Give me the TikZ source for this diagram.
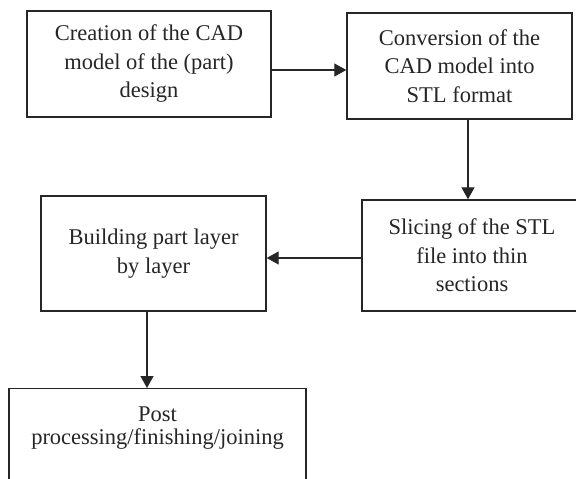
\documentclass[tikz,border=0pt]{standalone}
\usepackage{fontspec}
\setmainfont{Liberation Serif}
\usetikzlibrary{arrows.meta}
\tikzset{
  box/.style={draw=black!85, line width=1.4pt, fill=none, inner sep=0pt, align=center,
    text=black!85, font=\fontsize{22.5}{28.5}\selectfont},
  arr/.style={draw=black!85, line width=1.3pt, -{Triangle[length=12pt,width=13pt]}}
}
\begin{document}
\begin{tikzpicture}[x=1pt,y=-1pt]
\clip (0,0) rectangle (576,479);
\fill[white] (0,0) rectangle (576,479);
\node[box, minimum width=244pt, minimum height=106pt] (cad) at (149,64)
  {Creation of the CAD\\model of the (part)\\design};
\node[box, minimum width=225pt, minimum height=106pt] (stl) at (459.5,66)
  {Conversion of the\\CAD model into\\STL format};
\node[box, minimum width=220pt, minimum height=111pt] (slice) at (472,255.5)
  {Slicing of the STL\\file into thin\\sections};
\node[box, minimum width=225pt, minimum height=115pt] (build) at (153.5,253.5)
  {Building part layer\\by layer};
\node[box, minimum width=297pt, minimum height=130pt, anchor=north] (post) at (157.5,388) {};
\node[align=center, text=black!85, font=\fontsize{22.5}{22.7}\selectfont, inner sep=0pt]
  (posttext) at (157.5,428) {Post\\processing/finishing/joining};
\coordinate (h1) at (0,70);
\coordinate (v2) at (468,0);
\coordinate (h3) at (0,258);
\coordinate (v4) at (147,0);
\draw[arr] (cad.east |- h1) -- (stl.west |- h1);
\draw[arr] (stl.south -| v2) -- (slice.north -| v2);
\draw[arr] (slice.west |- h3) -- (build.east |- h3);
\draw[arr] (build.south -| v4) -- (post.north -| v4);
\end{tikzpicture}
\end{document}
